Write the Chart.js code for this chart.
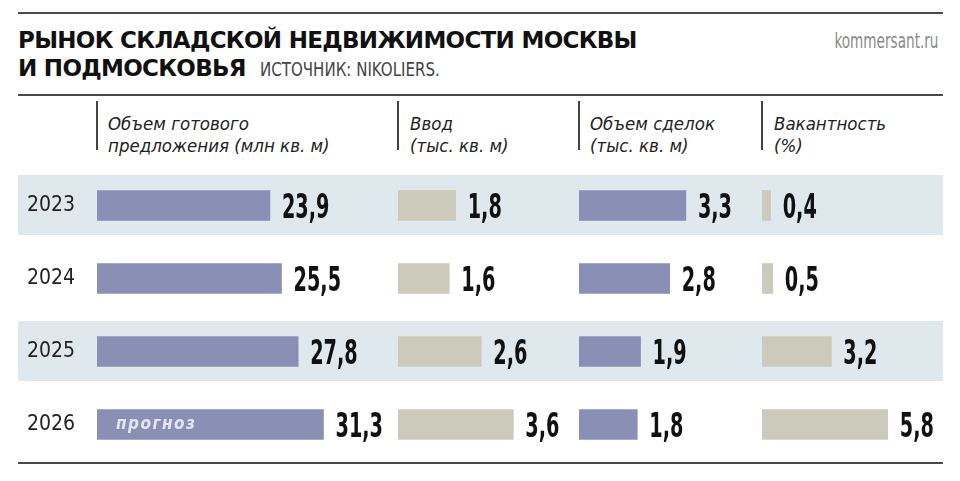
<!DOCTYPE html>
<html>
<head>
<meta charset="utf-8">
<script src="https://cdn.jsdelivr.net/npm/chart.js@4"></script>
<style>
  body { margin: 0; width: 960px; height: 481px; background: #fff; position: relative; overflow: hidden; font-family: 'Liberation Sans Narrow', 'DejaVu Sans Condensed', sans-serif; }
  .abs { position: absolute; }
  .hline { position: absolute; left: 18px; width: 925px; height: 2px; background: #4a4a4a; }
  .band { position: absolute; left: 18px; width: 925px; height: 60px; background: #dfe9ed; }
  .title { left: 18px; font-family: 'DejaVu Sans', sans-serif; font-weight: 900; font-size: 23px; letter-spacing: -0.7px; color: #111; white-space: nowrap; line-height: 28px; }
  .src { display: inline-block; font-size: 19px; color: #444; font-weight: normal; letter-spacing: 0; font-family: 'Liberation Sans Narrow', 'DejaVu Sans Condensed', sans-serif; margin-left: 14px; transform: scaleX(0.88); transform-origin: left center; }
  .site { right: 22px; top: 29px; font-size: 21px; color: #8a8a8a; transform: scaleX(0.72); transform-origin: right center; }
  .head { top: 113px; font-style: italic; font-size: 18.5px; line-height: 22px; color: #222; white-space: nowrap; }
  .vsep { position: absolute; top: 101px; width: 1.5px; height: 49px; background: #444; }
  canvas { position: absolute; top: 169px; }
</style>
</head>
<body>
<div class="hline" style="top:12px"></div>
<div class="hline" style="top:94px"></div>
<div class="hline" style="top:462px"></div>

<div class="abs title" style="top:26px">РЫНОК СКЛАДСКОЙ НЕДВИЖИМОСТИ МОСКВЫ</div>
<div class="abs title" style="top:54px">И ПОДМОСКОВЬЯ<span class="src">ИСТОЧНИК: NIKOLIERS.</span></div>
<div class="abs site">kommersant.ru</div>

<div class="vsep" style="left:96px"></div>
<div class="vsep" style="left:397px"></div>
<div class="vsep" style="left:578px"></div>
<div class="vsep" style="left:761px"></div>
<div class="abs head" style="left:108px">Объем готового<br>предложения (млн кв. м)</div>
<div class="abs head" style="left:410px">Ввод<br>(тыс. кв. м)</div>
<div class="abs head" style="left:590px">Объем сделок<br>(тыс. кв. м)</div>
<div class="abs head" style="left:774px">Вакантность<br>(%)</div>

<div class="band" style="top:175px"></div>
<div class="band" style="top:321px"></div>

<canvas id="c1" width="380" height="292" style="left:18px"></canvas>
<canvas id="c2" width="181" height="292" style="left:398px"></canvas>
<canvas id="c3" width="183" height="292" style="left:579px"></canvas>
<canvas id="c4" width="181" height="292" style="left:762px"></canvas>

<script>
const years = ['2023', '2024', '2025', '2026'];
const supply = [23.9, 25.5, 27.8, 31.3];     // млн кв. м
const newSupply = [1.8, 1.6, 2.6, 3.6];      // тыс. кв. м
const deals = [3.3, 2.8, 1.9, 1.8];          // тыс. кв. м
const vacancy = [0.4, 0.5, 3.2, 5.8];        // %
const forecastLabel = 'прогноз';

const BLUE = '#8a8fb6';
const BEIGE = '#cbcabb';
const NARROW = "'Liberation Sans Narrow', 'DejaVu Sans Condensed', sans-serif";

// подписи значений справа от столбиков
const valueLabels = {
    id: 'valueLabels',
    afterDatasetsDraw(chart) {
        const ctx = chart.ctx;
        const meta = chart.getDatasetMeta(0);
        const data = chart.data.datasets[0].data;
        meta.data.forEach(function(bar, i) {
            const txt = data[i].toFixed(1).replace('.', ',');
            ctx.save();
            ctx.translate(bar.x + 12, bar.y + 12.5);
            ctx.scale(0.63, 1);
            ctx.font = 'bold 34px ' + NARROW;
            ctx.fillStyle = '#111';
            ctx.textBaseline = 'alphabetic';
            ctx.fillText(txt, 0, 0);
            ctx.restore();
        });
        if (chart.options.plugins.valueLabels && chart.options.plugins.valueLabels.forecast) {
            const last = meta.data[meta.data.length - 1];
            ctx.save();
            ctx.font = 'italic bold 17px ' + NARROW;
            ctx.fillStyle = '#e4e6f0';
            ctx.textBaseline = 'middle';
            ctx.letterSpacing = '1.5px';
            ctx.fillText(forecastLabel, last.base + 19, last.y);
            ctx.restore();
        }
    }
};

function makeChart(id, values, color, max, withYears) {
    const ctx = document.getElementById(id).getContext('2d');
    return new Chart(ctx, {
        type: 'bar',
        data: {
            labels: years,
            datasets: [{
                data: values,
                backgroundColor: color,
                borderWidth: 0,
                barThickness: 30
            }]
        },
        plugins: [valueLabels],
        options: {
            indexAxis: 'y',
            responsive: false,
            animation: false,
            layout: { padding: { left: withYears ? 9 : 0, right: 0, top: 0, bottom: 0 } },
            plugins: {
                legend: { display: false },
                tooltip: { enabled: false },
                valueLabels: { forecast: withYears }
            },
            scales: {
                x: { display: false, min: 0, max: max },
                y: {
                    display: withYears,
                    grid: { display: false },
                    border: { display: false },
                    ticks: {
                        crossAlign: 'far',
                        padding: 0,
                        color: '#222',
                        font: { family: NARROW, size: 21 }
                    },
                    afterFit: function(scale) {
                        if (!withYears) return;
                        scale.width = 70;
                        scale.paddingTop = 0;
                        scale.paddingBottom = 0;
                    }
                }
            }
        }
    });
}

makeChart('c1', supply, BLUE, 41.6, true);
makeChart('c2', newSupply, BEIGE, 5.65, false);
makeChart('c3', deals, BLUE, 5.65, false);
makeChart('c4', vacancy, BEIGE, 8.35, false);
</script>
</body>
</html>
